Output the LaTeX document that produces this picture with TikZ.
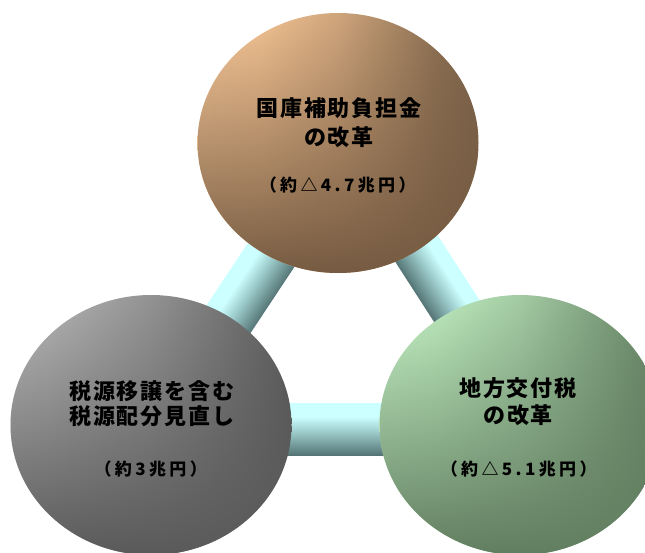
\documentclass[tikz,border=0pt]{standalone}
\usepackage{fontspec}
\usetikzlibrary{shapes.geometric,fadings,calc}
\newfontfamily\jpmain{Noto Sans CJK JP}[LetterSpace=9]
\newfontfamily\jpamt{Noto Sans CJK JP}[LetterSpace=20]

\definecolor{barlight}{HTML}{CCFFFF}
\definecolor{barmid}{HTML}{9CCACA}
\definecolor{bardark}{HTML}{557575}
\definecolor{topL}{HTML}{F9CA9A}
\definecolor{topL2}{HTML}{F3C393}
\definecolor{topM}{HTML}{CFA57C}
\definecolor{topR2}{HTML}{8B6F52}
\definecolor{topR}{HTML}{7A6249}
\definecolor{topD}{HTML}{765B42}
\definecolor{grayL}{HTML}{BBBBBB}
\definecolor{grayL2}{HTML}{B3B3B3}
\definecolor{grayM}{HTML}{939393}
\definecolor{grayR2}{HTML}{6A6A6A}
\definecolor{grayR}{HTML}{5A5A5A}
\definecolor{grayD}{HTML}{5A5A5A}
\definecolor{grnL}{HTML}{C8F4C8}
\definecolor{grnL2}{HTML}{BEEBBE}
\definecolor{grnM}{HTML}{A4CBA4}
\definecolor{grnR2}{HTML}{769674}
\definecolor{grnR}{HTML}{648264}
\definecolor{grnD}{HTML}{627E60}

\pgfdeclareverticalshading{barshade}{100bp}{color(0bp)=(bardark); color(25bp)=(bardark); color(47bp)=(barmid); color(62bp)=(barlight); color(100bp)=(barlight)}
\pgfdeclarehorizontalshading{topshade}{100bp}{color(0bp)=(topL); color(25bp)=(topL); color(36bp)=(topL2); color(50bp)=(topM); color(68bp)=(topR2); color(75bp)=(topR); color(100bp)=(topR)}
\pgfdeclarehorizontalshading{grayshade}{100bp}{color(0bp)=(grayL); color(25bp)=(grayL); color(32bp)=(grayL2); color(50bp)=(grayM); color(68bp)=(grayR2); color(75bp)=(grayR); color(100bp)=(grayR)}
\pgfdeclarehorizontalshading{grnshade}{100bp}{color(0bp)=(grnL); color(25bp)=(grnL); color(35bp)=(grnL2); color(50bp)=(grnM); color(68bp)=(grnR2); color(75bp)=(grnR); color(100bp)=(grnR)}
\tikzfading[name=downfade, top color=transparent!100, middle color=transparent!100, bottom color=transparent!0]

\tikzset{
  ball/.style={ellipse, minimum width=281pt, minimum height=260pt, inner sep=0pt, outer sep=0pt},
  darken/.style={path picture={\fill[#1, path fading=downfade] (path picture bounding box.north west) rectangle (path picture bounding box.south east);}},
  bar/.style={shading=barshade},
  maintext/.style={font=\jpmain\bfseries\fontsize{22pt}{#1}\selectfont, align=center, inner sep=0pt, text=black},
  amount/.style={font=\jpamt\bfseries\fontsize{17pt}{19pt}\selectfont, inner sep=0pt, text=black}
}

\begin{document}
\begin{tikzpicture}[x=1pt, y=-1pt]
\useasboundingbox (0,0) rectangle (645,552);
\fill[white] (0,0) rectangle (645,552);

\coordinate (ctop) at (338,143);
\coordinate (cleft) at (151,425);
\coordinate (cright) at (520,425);

% connectors (cylindrical bars)
\coordinate (barTL) at ($(ctop)!0.5!(cleft)+(5.1,3.4)$);
\coordinate (barTR) at ($(ctop)!0.5!(cright)+(7.3,-4.7)$);
\coordinate (barLR) at ($(cleft)!0.5!(cright)+(0,4)$);
\begin{scope}[transform canvas={shift={(barTL)}, rotate=56.45}]
  \shade[bar] (-140,-26) rectangle (140,26);
\end{scope}
\begin{scope}[transform canvas={shift={(barTR)}, rotate=-57.17}]
  \shade[bar] (-140,-25) rectangle (140,25);
\end{scope}
\begin{scope}[transform canvas={shift={(barLR)}}]
  \shade[bar] (-140,-26) rectangle (140,26);
\end{scope}

% spheres
\node[ball, shading=topshade, darken=topD] (top) at (ctop) {};
\node[ball, shading=grayshade, darken=grayD] (left) at (cleft) {};
\node[ball, shading=grnshade, darken=grnD] (right) at (cright) {};

% texts
\node[maintext=29pt] (toptext) at (339,122.5) {国庫補助負担金\\の改革};
\node[amount] (topamt) at (337.7,185) {（約△4.7兆円）};
\node[maintext=25pt] (lefttext) at (152,403.5) {税源移譲を含む\\税源配分見直し};
\node[amount] (leftamt) at (150.7,469) {（約3兆円）};
\node[maintext=27pt] (righttext) at (518,401.5) {地方交付税\\の改革};
\node[amount] (rightamt) at (518.7,469) {（約△5.1兆円）};
\end{tikzpicture}
\end{document}
